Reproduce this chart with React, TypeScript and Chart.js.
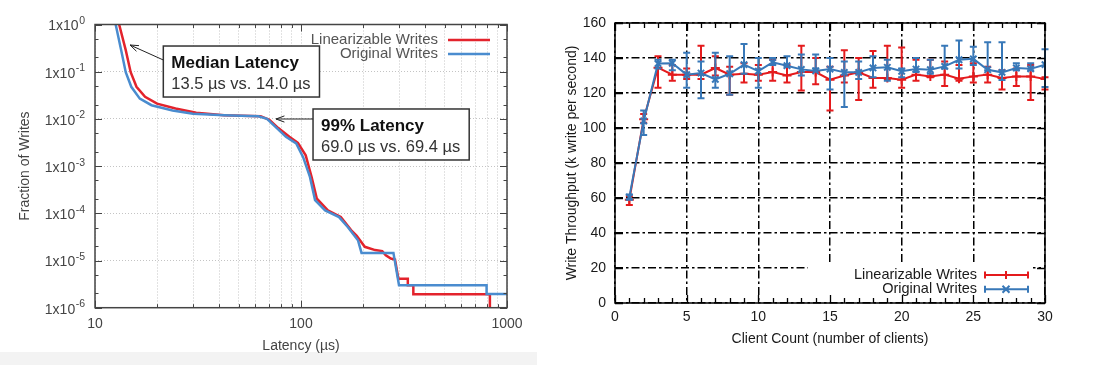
import React, { useEffect, useRef } from 'react';
import { Chart, registerables } from 'chart.js';
Chart.register(...registerables);

// ---------- Left chart: latency CCDF ----------
const latencyLin = [13.0, 13.1, 14.1, 14.9, 15.9, 17.5, 20.0, 24.6, 31, 42.3, 63.7, 70.2, 77.6, 87.8, 96.6, 105.4, 112.6, 119.4, 135, 156, 175, 186, 204, 229, 248, 258, 273, 286, 297, 330, 330, 351, 351, 826, 826];
const fractionLin = [1.15, 1.0, 0.286, 0.0977, 0.0479, 0.0295, 0.0211, 0.0166, 0.0135, 0.012, 0.0114, 0.0096, 0.0064, 0.00417, 0.0031, 0.00169, 0.000589, 0.000204, 0.000115, 0.0000832, 0.0000441, 0.0000339, 0.0000195, 0.0000166, 0.0000158, 0.0000129, 0.000011, 0.0000105, 0.0000041, 0.0000041, 0.000003, 0.000003, 0.00000192, 0.00000192, 0.0000005];
const latencyOrig = [12.5, 12.6, 13.4, 14.1, 15.0, 16.5, 18.8, 23.8, 29.9, 42.3, 62.1, 68.4, 75.2, 84.5, 94.8, 102.4, 110.5, 117, 131, 153, 168.6, 189, 196.7, 281, 299, 796, 796, 1000];
const fractionOrig = [1.15, 1.0, 0.286, 0.0977, 0.0479, 0.0269, 0.0195, 0.0151, 0.0129, 0.012, 0.0114, 0.01, 0.00676, 0.00417, 0.00302, 0.00155, 0.000589, 0.000191, 0.000115, 0.0000832, 0.0000513, 0.0000269, 0.0000145, 0.0000145, 0.000003, 0.000003, 0.00000195, 0.00000195];
const latencyGridTicks = [10, 20, 30, 40, 50, 60, 70, 80, 90, 100, 200, 300, 400, 500, 600, 700, 800, 900, 1000];
const latencyLabels = [10, 100, 1000];
const fractionTicks = [1e-6, 1e-5, 1e-4, 1e-3, 1e-2, 1e-1, 1];
const fractionExponents = ['-6', '-5', '-4', '-3', '-2', '-1', '0'];
const fractionMinorTicks = [2e-6, 5e-6, 2e-5, 5e-5, 2e-4, 5e-4, 2e-3, 5e-3, 2e-2, 5e-2, 2e-1, 5e-1];

// ---------- Right chart: throughput ----------
const clients = [1, 2, 3, 4, 5, 6, 7, 8, 9, 10, 11, 12, 13, 14, 15, 16, 17, 18, 19, 20, 21, 22, 23, 24, 25, 26, 27, 28, 29, 30];
const linMean = [59, 105, 134.5, 130.5, 130.5, 130.5, 134.3, 130.5, 131, 130.5, 132, 130, 132, 132, 127.6, 130, 131.8, 128.6, 128.6, 127.6, 130.5, 129.5, 130.5, 128.2, 129.5, 130.5, 128.6, 129.5, 129.5, 128];
const linLo = [56, 103, 123, 127, 128, 128, 130, 119, 126, 127, 127, 126, 121.5, 125, 110, 126, 116, 123, 128, 123, 127, 129, 124, 127, 126, 126, 122, 124, 116, 122];
const linHi = [61, 108, 141, 136, 134, 147, 141, 135, 137, 136, 139, 136, 147, 140, 135, 144.5, 140, 144, 147, 146, 139, 139, 138, 136, 137, 135, 133, 134, 136, 129];
const origMean = [60.5, 104, 136.8, 137, 130.5, 131.4, 127.8, 131, 136.2, 132.5, 137.5, 135.6, 133.5, 132.6, 133.7, 131.8, 131.8, 134.3, 134.7, 132.4, 133.7, 133.3, 135.2, 139, 139.5, 133.3, 131.8, 134.3, 133.8, 136.2];
const origLo = [59, 96, 134, 133, 123, 117, 123, 119, 131, 123, 136, 135, 130, 134, 122, 112, 128, 129, 127, 129, 132, 131, 134, 134, 136, 133, 127.5, 133, 133, 123.5];
const origHi = [62, 110, 139, 139, 143, 138, 143, 141, 148, 140, 140, 141, 142, 142, 140, 138, 138, 141, 139, 134, 140, 139, 147, 150, 146.5, 149, 149, 137, 137, 145];
const clientTicks = [0, 5, 10, 15, 20, 25, 30];
const clientMinorTicks = [1, 2, 3, 4, 6, 7, 8, 9, 11, 12, 13, 14, 16, 17, 18, 19, 21, 22, 23, 24, 26, 27, 28, 29];
const throughputTicks = [0, 20, 40, 60, 80, 100, 120, 140, 160];

const FONT = "'Liberation Sans', Arial, 'DejaVu Sans', sans-serif";
const RED_L = '#e3232c';
const BLUE_L = '#4a8ccf';
const RED = '#e41a1c';
const BLUE = '#3878b8';

const notes = [
  { title: 'Median Latency', detail: '13.5 µs vs. 14.0 µs', box: [21.46, 0.35], tip: [14.79, 0.368], tail: [21.46, 0.177] },
  { title: '99% Latency', detail: '69.0 µs vs. 69.4 µs', box: [114.4, 0.01622], tip: [75.6, 0.00995], tail: [114.4, 0.00995] },
];

// frame + inward tick marks on all 4 sides
const framePlugin = {
  id: 'frame',
  afterDraw(chart: any, _a: any, o: any) {
    const { ctx, chartArea: a, scales } = chart;
    const xs = scales.x, ys = scales.y;
    ctx.save();
    ctx.strokeStyle = o.color;
    ctx.lineWidth = o.tickWidth;
    ctx.beginPath();
    const xt = (vals: number[], len: number) => vals.forEach((v) => {
      const p = Math.round(xs.getPixelForValue(v)) + 0.5;
      ctx.moveTo(p, a.bottom); ctx.lineTo(p, a.bottom - len);
      ctx.moveTo(p, a.top); ctx.lineTo(p, a.top + len);
    });
    const yt = (vals: number[], len: number) => vals.forEach((v) => {
      const p = Math.round(ys.getPixelForValue(v)) + 0.5;
      ctx.moveTo(a.left, p); ctx.lineTo(a.left + len, p);
      ctx.moveTo(a.right, p); ctx.lineTo(a.right - len, p);
    });
    xt(o.xMajor, o.majorLen); xt(o.xMinor, o.minorLen);
    yt(o.yMajor, o.majorLen); yt(o.yMinor, o.minorLen);
    ctx.stroke();
    ctx.lineWidth = o.width;
    ctx.strokeRect(a.left, a.top, a.right - a.left, a.bottom - a.top);
    ctx.restore();
  },
};

// "1x10" + raised exponent, placed with the y scale
const powerLabelsPlugin = {
  id: 'powerLabels',
  afterDraw(chart: any) {
    const { ctx, chartArea: a, scales } = chart;
    const ys = scales.y;
    const xEnd = a.left - 10;
    ctx.save();
    ctx.fillStyle = '#444';
    fractionTicks.forEach((v, i) => {
      const y = ys.getPixelForValue(v);
      const exp = fractionExponents[i];
      ctx.font = `10.5px ${FONT}`;
      const ew = ctx.measureText(exp).width;
      ctx.textAlign = 'left';
      ctx.textBaseline = 'alphabetic';
      ctx.fillText(exp, xEnd - ew, y - 0.5);
      ctx.font = `14px ${FONT}`;
      ctx.textAlign = 'right';
      ctx.textBaseline = 'middle';
      ctx.fillText('1x10', xEnd - ew - 0.5, y + 2);
    });
    ctx.restore();
  },
};

const arrow = (ctx: CanvasRenderingContext2D, x1: number, y1: number, x2: number, y2: number) => {
  const ang = Math.atan2(y2 - y1, x2 - x1);
  ctx.beginPath();
  ctx.moveTo(x1, y1); ctx.lineTo(x2, y2);
  const L = 9, w = 0.35;
  ctx.moveTo(x2 - L * Math.cos(ang - w), y2 - L * Math.sin(ang - w));
  ctx.lineTo(x2, y2);
  ctx.lineTo(x2 - L * Math.cos(ang + w), y2 - L * Math.sin(ang + w));
  ctx.stroke();
};

const latencyNotesPlugin = {
  id: 'latencyNotes',
  afterDraw(chart: any) {
    const { ctx, chartArea: a, scales } = chart;
    const xs = scales.x, ys = scales.y;
    ctx.save();
    notes.forEach((n) => {
      const bx = xs.getPixelForValue(n.box[0]);
      const by = ys.getPixelForValue(n.box[1]);
      ctx.font = `16.5px ${FONT}`;
      const w = ctx.measureText(n.detail).width + 17;
      ctx.fillStyle = '#fff';
      ctx.fillRect(bx, by, w, 51);
      ctx.strokeStyle = '#333';
      ctx.lineWidth = 1.5;
      ctx.strokeRect(bx, by, w, 51);
      ctx.textAlign = 'left';
      ctx.textBaseline = 'alphabetic';
      ctx.fillStyle = '#111';
      ctx.font = `bold 17px ${FONT}`;
      ctx.fillText(n.title, bx + 8, by + 22);
      ctx.fillStyle = '#333';
      ctx.font = `16.5px ${FONT}`;
      ctx.fillText(n.detail, bx + 8, by + 43);
      ctx.strokeStyle = '#222';
      ctx.lineWidth = 1;
      arrow(ctx, xs.getPixelForValue(n.tail[0]), ys.getPixelForValue(n.tail[1]), xs.getPixelForValue(n.tip[0]), ys.getPixelForValue(n.tip[1]));
    });
    const items = [
      { label: 'Linearizable Writes', color: RED_L, dy: 15.5 },
      { label: 'Original Writes', color: BLUE_L, dy: 29.5 },
    ];
    ctx.font = `15px ${FONT}`;
    ctx.textAlign = 'right';
    ctx.textBaseline = 'middle';
    items.forEach((it) => {
      const y = a.top + it.dy;
      ctx.fillStyle = '#555';
      ctx.fillText(it.label, a.right - 69, y);
      ctx.strokeStyle = it.color;
      ctx.lineWidth = 2.5;
      ctx.beginPath();
      ctx.moveTo(a.right - 59, y); ctx.lineTo(a.right - 17, y);
      ctx.stroke();
    });
    ctx.restore();
  },
};

const errorBarPlugin = {
  id: 'errorBars',
  beforeDatasetDraw(chart: any, args: any) {
    const ds = chart.data.datasets[args.index];
    if (!ds.errorLow) return;
    const { ctx, scales } = chart;
    const xs = scales.x, ys = scales.y;
    ctx.save();
    ctx.strokeStyle = ds.borderColor;
    ctx.lineWidth = 2;
    ctx.beginPath();
    ds.data.forEach((p: any, i: number) => {
      const px = xs.getPixelForValue(p.x);
      const lo = ys.getPixelForValue(ds.errorLow[i]);
      const hi = ys.getPixelForValue(ds.errorHigh[i]);
      ctx.moveTo(px, lo); ctx.lineTo(px, hi);
      ctx.moveTo(px - 3.5, lo); ctx.lineTo(px + 3.5, lo);
      ctx.moveTo(px - 3.5, hi); ctx.lineTo(px + 3.5, hi);
    });
    ctx.stroke();
    ctx.restore();
  },
};

const throughputLegendPlugin = {
  id: 'throughputLegend',
  beforeDatasetsDraw(chart: any) {
    const { ctx, chartArea: a } = chart;
    ctx.save();
    ctx.fillStyle = '#fff';
    ctx.fillRect(a.right - 237, a.bottom - 39, 225, 38);
    ctx.restore();
  },
  afterDraw(chart: any) {
    const { ctx, chartArea: a } = chart;
    const items = [
      { label: 'Linearizable Writes', color: RED, dy: 28, style: 'plus' },
      { label: 'Original Writes', color: BLUE, dy: 13.7, style: 'x' },
    ];
    ctx.save();
    ctx.font = `14.5px ${FONT}`;
    ctx.textAlign = 'right';
    ctx.textBaseline = 'middle';
    items.forEach((it) => {
      const y = a.bottom - it.dy;
      ctx.fillStyle = '#1a1a1a';
      ctx.fillText(it.label, a.right - 68, y);
      const x1 = a.right - 60, x2 = a.right - 17, xm = a.right - 39;
      ctx.strokeStyle = it.color;
      ctx.lineWidth = 2;
      ctx.beginPath();
      ctx.moveTo(x1, y); ctx.lineTo(x2, y);
      ctx.moveTo(x1, y - 3.5); ctx.lineTo(x1, y + 3.5);
      ctx.moveTo(x2, y - 3.5); ctx.lineTo(x2, y + 3.5);
      if (it.style === 'plus') {
        ctx.moveTo(xm - 4, y); ctx.lineTo(xm + 4, y);
        ctx.moveTo(xm, y - 4); ctx.lineTo(xm, y + 4);
      } else {
        ctx.moveTo(xm - 3.5, y - 3.5); ctx.lineTo(xm + 3.5, y + 3.5);
        ctx.moveTo(xm - 3.5, y + 3.5); ctx.lineTo(xm + 3.5, y - 3.5);
      }
      ctx.stroke();
    });
    ctx.restore();
  },
};

function LatencyChart() {
  const ref = useRef<HTMLCanvasElement>(null);
  useEffect(() => {
    if (!ref.current) return;
    const chart = new Chart(ref.current, {
      type: 'line',
      data: {
        datasets: [
          { label: 'Linearizable Writes', data: latencyLin.map((x, i) => ({ x, y: fractionLin[i] })), borderColor: RED_L, borderWidth: 2.5, pointRadius: 0, order: 2 } as any,
          { label: 'Original Writes', data: latencyOrig.map((x, i) => ({ x, y: fractionOrig[i] })), borderColor: BLUE_L, borderWidth: 2.5, pointRadius: 0, order: 1 } as any,
        ],
      },
      options: {
        responsive: false,
        animation: false,
        events: [],
        layout: { padding: { left: 0, top: 24.5, right: 38, bottom: 0 } },
        plugins: {
          legend: { display: false },
          tooltip: { enabled: false },
          frame: { color: '#444', width: 1.5, tickWidth: 1, majorLen: 7, minorLen: 3.5, xMajor: latencyLabels, xMinor: latencyGridTicks.filter((v) => !latencyLabels.includes(v)), yMajor: fractionTicks, yMinor: fractionMinorTicks },
        } as any,
        scales: {
          x: {
            type: 'logarithmic', min: 10, max: 1000,
            afterBuildTicks: (s: any) => { s.ticks = latencyGridTicks.map((v) => ({ value: v })); },
            afterFit: (s: any) => { s.height = 57.3; },
            grid: { color: '#c4c4c4', lineWidth: 1, drawTicks: false },
            border: { display: false, dash: [1, 2] },
            ticks: { autoSkip: false, maxRotation: 0, padding: 8.5, color: '#444', font: { family: FONT, size: 14 }, callback: (v: any) => (latencyLabels.includes(Number(v)) ? String(v) : '') },
            title: { display: true, text: 'Latency (µs)', color: '#444', font: { family: FONT, size: 14 }, padding: { top: 0, bottom: 10.5 } },
          },
          y: {
            type: 'logarithmic', min: 1e-6, max: 1,
            afterBuildTicks: (s: any) => { s.ticks = fractionTicks.map((v) => ({ value: v })); },
            afterFit: (s: any) => { s.width = 95; },
            grid: { color: '#c4c4c4', lineWidth: 1, drawTicks: false },
            border: { display: false, dash: [1, 2] },
            ticks: { display: false },
            title: { display: true, text: 'Fraction of Writes', color: '#444', font: { family: FONT, size: 14 }, padding: { top: 17, bottom: 0 } },
          },
        } as any,
      },
      plugins: [framePlugin, powerLabelsPlugin, latencyNotesPlugin],
    });
    return () => chart.destroy();
  }, []);
  return <canvas ref={ref} width={545} height={365} style={{ position: 'absolute', left: 0, top: 0 }} />;
}

function ThroughputChart() {
  const ref = useRef<HTMLCanvasElement>(null);
  useEffect(() => {
    if (!ref.current) return;
    const chart = new Chart(ref.current, {
      type: 'line',
      data: {
        datasets: [
          { label: 'Linearizable Writes', data: clients.map((x, i) => ({ x, y: linMean[i] })), borderColor: RED, backgroundColor: RED, borderWidth: 2, pointStyle: 'cross', pointRadius: 4.5, pointBorderWidth: 2, pointBorderColor: RED, errorLow: linLo, errorHigh: linHi, order: 2 } as any,
          { label: 'Original Writes', data: clients.map((x, i) => ({ x, y: origMean[i] })), borderColor: BLUE, backgroundColor: BLUE, borderWidth: 2, pointStyle: 'crossRot', pointRadius: 4.5, pointBorderWidth: 2, pointBorderColor: BLUE, errorLow: origLo, errorHigh: origHi, order: 1 } as any,
        ],
      },
      options: {
        responsive: false,
        animation: false,
        events: [],
        layout: { padding: { left: 0, top: 23, right: 51, bottom: 0 } },
        plugins: {
          legend: { display: false },
          tooltip: { enabled: false },
          frame: { color: '#000', width: 1.5, tickWidth: 1.3, majorLen: 8, minorLen: 5, xMajor: clientTicks, xMinor: clientMinorTicks, yMajor: throughputTicks, yMinor: [] },
        } as any,
        scales: {
          x: {
            type: 'linear', min: 0, max: 30,
            afterBuildTicks: (s: any) => { s.ticks = clientTicks.map((v) => ({ value: v })); },
            afterFit: (s: any) => { s.height = 62; },
            grid: { color: '#000', lineWidth: 1.5, drawTicks: false },
            border: { display: false, dash: [8, 3, 2.5, 3] },
            ticks: { autoSkip: false, maxRotation: 0, padding: 6, color: '#1a1a1a', font: { family: FONT, size: 14 } },
            title: { display: true, text: 'Client Count (number of clients)', color: '#1a1a1a', font: { family: FONT, size: 14 }, padding: { top: 0, bottom: 17.3 } },
          },
          y: {
            type: 'linear', min: 0, max: 160,
            afterBuildTicks: (s: any) => { s.ticks = throughputTicks.map((v) => ({ value: v })); },
            afterFit: (s: any) => { s.width = 70; },
            grid: { color: '#000', lineWidth: 1.5, drawTicks: false },
            border: { display: false, dash: [8, 3, 2.5, 3] },
            ticks: { autoSkip: false, padding: 9, color: '#1a1a1a', font: { family: FONT, size: 14 } },
            title: { display: true, text: 'Write Throughput (k write per second)', color: '#1a1a1a', font: { family: FONT, size: 14 }, padding: { top: 18.6, bottom: 0 } },
          },
        } as any,
      },
      plugins: [throughputLegendPlugin, errorBarPlugin, framePlugin],
    });
    return () => chart.destroy();
  }, []);
  return <canvas ref={ref} width={551} height={365} style={{ position: 'absolute', left: 545, top: 0 }} />;
}

export default function App() {
  return (
    <div style={{ position: 'absolute', left: 0, top: 0, width: 1096, height: 365, background: '#fff', overflow: 'hidden' }}>
      <div style={{ position: 'absolute', left: 0, top: 352, width: 537, height: 13, background: '#f3f3f3' }} />
      <LatencyChart />
      <ThroughputChart />
    </div>
  );
}
